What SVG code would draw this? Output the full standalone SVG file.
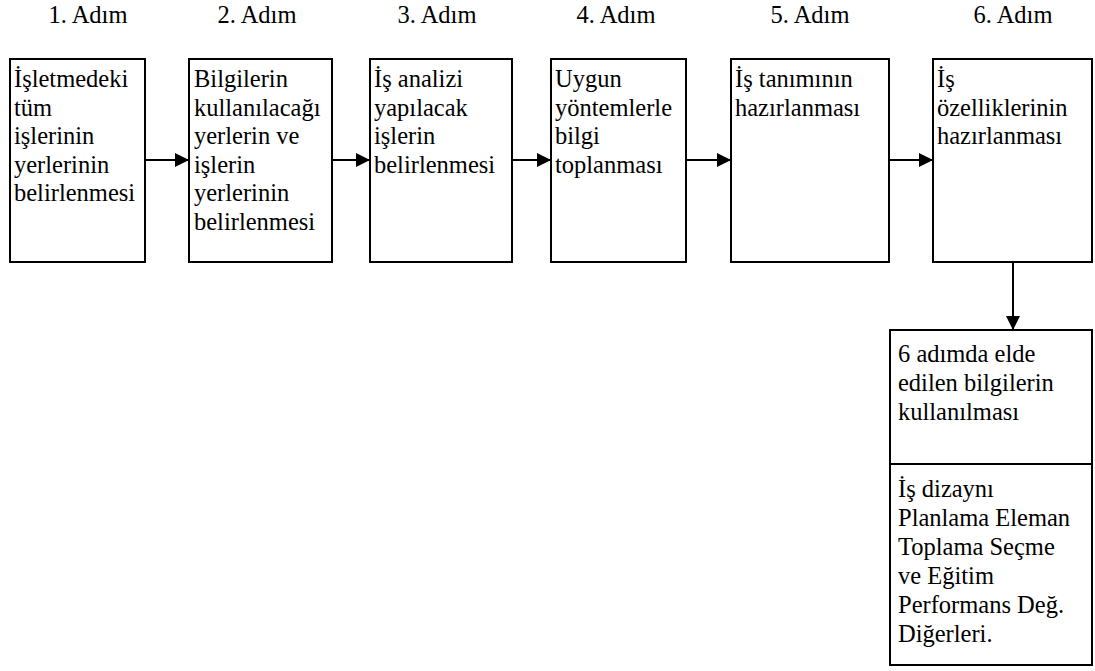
<svg xmlns="http://www.w3.org/2000/svg" width="1095" height="671" viewBox="0 0 1095 671">
<defs>
<style>
text{font-family:'Liberation Serif','Times New Roman',serif !important;font-size:24.5px;fill:#000}
.h{text-anchor:middle}
.b{fill:#fff;stroke:#000;stroke-width:2}
.c{stroke:#000;stroke-width:2;fill:none}
</style>
<marker id="ah" viewBox="0 0 14 14" refX="14" refY="7" markerWidth="14" markerHeight="14" markerUnits="userSpaceOnUse" orient="auto">
<path d="M0,0 L14,7 L0,14 Z" fill="#000"/>
</marker>
</defs>
<rect width="1095" height="671" fill="#fff"/>
<g id="headers">
<text class="h" x="88" y="23">1. Adım</text>
<text class="h" x="257" y="23">2. Adım</text>
<text class="h" x="437" y="23">3. Adım</text>
<text class="h" x="616" y="23">4. Adım</text>
<text class="h" x="810" y="23">5. Adım</text>
<text class="h" x="1013" y="23">6. Adım</text>
</g>
<g id="connectors">
<line class="c" x1="145" y1="160" x2="189" y2="160" marker-end="url(#ah)"/>
<line class="c" x1="332" y1="160" x2="370" y2="160" marker-end="url(#ah)"/>
<line class="c" x1="512" y1="160" x2="551" y2="160" marker-end="url(#ah)"/>
<line class="c" x1="686" y1="160" x2="731" y2="160" marker-end="url(#ah)"/>
<line class="c" x1="889" y1="160" x2="933" y2="160" marker-end="url(#ah)"/>
<line class="c" x1="1013" y1="262" x2="1013" y2="330" marker-end="url(#ah)"/>
</g>
<g id="step1">
<rect class="b" x="10" y="59" width="135" height="203"/>
<text style="font-family:'Liberation Serif',serif" x="14" y="87">İşletmedeki</text>
<text style="font-family:'Liberation Serif',serif" x="14" y="115.5">tüm</text>
<text style="font-family:'Liberation Serif',serif" x="14" y="144">işlerinin</text>
<text style="font-family:'Liberation Serif',serif" x="14" y="172.5">yerlerinin</text>
<text style="font-family:'Liberation Serif',serif" x="14" y="201">belirlenmesi</text>
</g>
<g id="step2">
<rect class="b" x="189" y="59" width="143" height="203"/>
<text style="font-family:'Liberation Serif',serif" x="194" y="87">Bilgilerin</text>
<text style="font-family:'Liberation Serif',serif" x="194" y="115.5">kullanılacağı</text>
<text style="font-family:'Liberation Serif',serif" x="194" y="144">yerlerin ve</text>
<text style="font-family:'Liberation Serif',serif" x="194" y="172.5">işlerin</text>
<text style="font-family:'Liberation Serif',serif" x="194" y="201">yerlerinin</text>
<text style="font-family:'Liberation Serif',serif" x="194" y="229.5">belirlenmesi</text>
</g>
<g id="step3">
<rect class="b" x="370" y="59" width="142" height="203"/>
<text style="font-family:'Liberation Serif',serif" x="374" y="87">İş analizi</text>
<text style="font-family:'Liberation Serif',serif" x="374" y="115.5">yapılacak</text>
<text style="font-family:'Liberation Serif',serif" x="374" y="144">işlerin</text>
<text style="font-family:'Liberation Serif',serif" x="374" y="172.5">belirlenmesi</text>
</g>
<g id="step4">
<rect class="b" x="551" y="59" width="135" height="203"/>
<text style="font-family:'Liberation Serif',serif" x="555" y="87">Uygun</text>
<text style="font-family:'Liberation Serif',serif" x="555" y="115.5">yöntemlerle</text>
<text style="font-family:'Liberation Serif',serif" x="555" y="144">bilgi</text>
<text style="font-family:'Liberation Serif',serif" x="555" y="172.5">toplanması</text>
</g>
<g id="step5">
<rect class="b" x="731" y="59" width="158" height="203"/>
<text style="font-family:'Liberation Serif',serif" x="735" y="87">İş tanımının</text>
<text style="font-family:'Liberation Serif',serif" x="735" y="115.5">hazırlanması</text>
</g>
<g id="step6">
<rect class="b" x="933" y="59" width="159" height="203"/>
<text style="font-family:'Liberation Serif',serif" x="937" y="87">İş</text>
<text style="font-family:'Liberation Serif',serif" x="937" y="115.5">özelliklerinin</text>
<text style="font-family:'Liberation Serif',serif" x="937" y="144">hazırlanması</text>
</g>
<g id="usage">
<rect class="b" x="890" y="330" width="202" height="335"/>
<line class="c" x1="890" y1="464" x2="1092" y2="464"/>
<text style="font-family:'Liberation Serif',serif" x="898" y="362">6 adımda elde</text>
<text style="font-family:'Liberation Serif',serif" x="898" y="391">edilen bilgilerin</text>
<text style="font-family:'Liberation Serif',serif" x="898" y="420">kullanılması</text>
<text style="font-family:'Liberation Serif',serif" x="898" y="497">İş dizaynı</text>
<text style="font-family:'Liberation Serif',serif" x="898" y="526">Planlama Eleman</text>
<text style="font-family:'Liberation Serif',serif" x="898" y="555">Toplama Seçme</text>
<text style="font-family:'Liberation Serif',serif" x="898" y="584">ve Eğitim</text>
<text style="font-family:'Liberation Serif',serif" x="898" y="613">Performans Değ.</text>
<text style="font-family:'Liberation Serif',serif" x="898" y="642">Diğerleri.</text>
</g>
</svg>
